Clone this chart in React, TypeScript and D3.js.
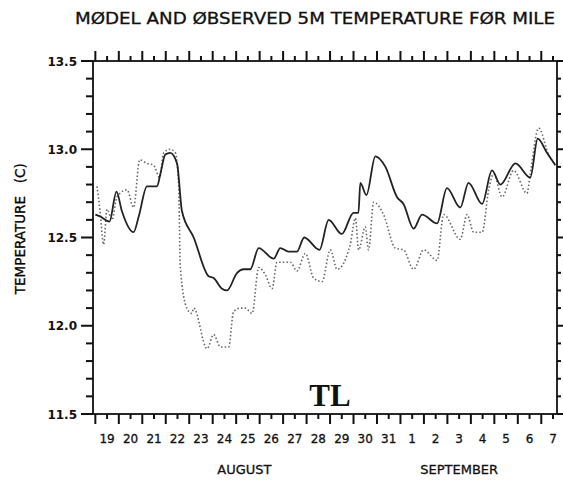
import { useRef, useEffect } from "react";
import * as d3 from "d3";

// time in days of August, midnight = integer (Sep 1 00:00 = 32)
const modelDay = [19.0, 19.2, 19.6, 19.9, 20.13, 20.63, 20.85, 21.2, 21.63, 21.77, 21.98, 22.19, 22.48, 22.69, 23.19, 23.83, 24.04, 24.4, 24.61, 25.04, 25.32, 25.6, 25.96, 26.6, 26.88, 27.23, 27.59, 27.9, 28.55, 28.94, 29.5, 30.0, 30.21, 30.29, 30.55, 30.93, 31.36, 31.85, 32.13, 32.56, 32.92, 33.56, 33.98, 34.55, 34.9, 35.48, 35.9, 36.26, 36.9, 37.53, 37.85, 38.24, 38.6];
const modelTemp = [12.63, 12.62, 12.59, 12.76, 12.65, 12.53, 12.62, 12.79, 12.79, 12.86, 12.97, 12.98, 12.92, 12.65, 12.5, 12.28, 12.27, 12.21, 12.2, 12.3, 12.32, 12.32, 12.44, 12.38, 12.44, 12.42, 12.42, 12.5, 12.43, 12.6, 12.52, 12.64, 12.64, 12.81, 12.74, 12.96, 12.9, 12.73, 12.69, 12.55, 12.63, 12.58, 12.78, 12.67, 12.81, 12.69, 12.88, 12.8, 12.92, 12.84, 13.06, 12.98, 12.91];

const obsDay = [19.07, 19.2, 19.35, 19.5, 19.71, 19.92, 20.35, 20.63, 20.89, 21.2, 21.48, 21.74, 21.91, 22.19, 22.41, 22.55, 22.62, 22.9, 23.11, 23.19, 23.76, 24.04, 24.33, 24.68, 24.89, 25.18, 25.39, 25.68, 25.96, 26.24, 26.53, 26.74, 27.02, 27.31, 27.59, 27.95, 28.3, 28.66, 29.01, 29.3, 29.86, 30.08, 30.22, 30.5, 30.64, 30.86, 31.28, 31.78, 32.13, 32.56, 32.99, 33.56, 33.84, 34.55, 34.84, 35.12, 35.48, 35.76, 35.97, 36.33, 36.82, 37.39, 37.53, 37.89, 38.31, 38.6];
const obsTemp = [12.79, 12.65, 12.46, 12.66, 12.6, 12.73, 12.77, 12.67, 12.94, 12.92, 12.91, 12.84, 12.98, 13.0, 12.98, 12.79, 12.33, 12.1, 12.07, 12.1, 11.87, 11.95, 11.88, 11.88, 12.08, 12.1, 12.1, 12.07, 12.33, 12.29, 12.21, 12.36, 12.36, 12.36, 12.31, 12.41, 12.27, 12.25, 12.43, 12.32, 12.46, 12.61, 12.43, 12.56, 12.43, 12.7, 12.63, 12.44, 12.43, 12.32, 12.43, 12.37, 12.63, 12.49, 12.63, 12.53, 12.53, 12.77, 12.86, 12.73, 12.88, 12.75, 12.86, 13.12, 12.97, 12.91];

// day labels sit at noon of each day
const dayLabels = ["19", "20", "21", "22", "23", "24", "25", "26", "27", "28", "29", "30", "31", "1", "2", "3", "4", "5", "6", "7"];
const dayLabelPos = [19.5, 20.5, 21.5, 22.5, 23.5, 24.5, 25.5, 26.5, 27.5, 28.5, 29.5, 30.5, 31.5, 32.5, 33.5, 34.5, 35.5, 36.5, 37.5, 38.5];
const monthLabels = ["AUGUST", "SEPTEMBER"];
const monthPos = [25.35, 34.5];
const yMajor = [11.5, 12.0, 12.5, 13.0, 13.5];

const title = "MØDEL AND ØBSERVED 5M TEMPERATURE FØR MILE";

export default function App() {
  const ref = useRef<SVGSVGElement | null>(null);

  useEffect(() => {
    if (!ref.current) return;
    const W = 563, H = 482;
    const left = 93, right = 557, top = 61, bottom = 414;
    const font = "'DejaVu Sans', sans-serif";
    const ink = "#111";
    const tw = 2; // tick thickness

    const svg = d3.select(ref.current);
    svg.selectAll("*").remove();
    svg.attr("width", W).attr("height", H);
    svg.append("rect").attr("width", W).attr("height", H).attr("fill", "#fff");

    const x = d3.scaleLinear().domain([18.9, 38.67]).range([left, right]);
    const y = d3.scaleLinear().domain([11.5, 13.5]).range([bottom, top]);

    const halfDays = d3.range(0, 40).map((i) => 19 + i * 0.5).filter((d) => d < 38.67);
    const tenths = d3.range(0, 21).map((i) => +(11.5 + i * 0.1).toFixed(1));
    const xLen = (d: number) => (Number.isInteger(d) ? 10 : 5);
    const yLen = (v: number) => (yMajor.includes(v) ? 12 : 7);

    const tickG = svg.append("g").attr("fill", ink);
    // bottom (down) and top (up) ticks
    tickG.selectAll("rect.xb").data(halfDays).join("rect").attr("class", "xb")
      .attr("x", (d) => x(d) - tw / 2).attr("y", bottom)
      .attr("width", tw).attr("height", xLen);
    tickG.selectAll("rect.xt").data(halfDays).join("rect").attr("class", "xt")
      .attr("x", (d) => x(d) - tw / 2).attr("y", (d) => top - xLen(d))
      .attr("width", tw).attr("height", xLen);
    // left (outward) and right (outward) ticks
    tickG.selectAll("rect.yl").data(tenths).join("rect").attr("class", "yl")
      .attr("x", (v) => left - yLen(v)).attr("y", (v) => y(v) - tw / 2)
      .attr("width", yLen).attr("height", tw);
    tickG.selectAll("rect.yr").data(tenths).join("rect").attr("class", "yr")
      .attr("x", right).attr("y", (v) => y(v) - tw / 2)
      .attr("width", (v) => (yMajor.includes(v) ? 6 : 4)).attr("height", tw);

    // frame
    svg.append("rect")
      .attr("x", left).attr("y", top)
      .attr("width", right - left).attr("height", bottom - top)
      .attr("fill", "none").attr("stroke", ink).attr("stroke-width", 1.8);

    svg.append("g").selectAll("text").data(yMajor).join("text")
      .attr("x", 77).attr("y", (d) => y(d) + 4.5)
      .attr("text-anchor", "end")
      .attr("font-family", font).attr("font-size", 12).attr("font-weight", "bold")
      .attr("fill", ink)
      .text((d) => d.toFixed(1));

    svg.append("g").selectAll("text").data(dayLabels).join("text")
      .attr("x", (_d, i) => x(dayLabelPos[i]))
      .attr("y", 443)
      .attr("text-anchor", "middle")
      .attr("font-family", font).attr("font-size", 12)
      .attr("fill", ink).attr("stroke", ink).attr("stroke-width", 0.3)
      .text((d) => d);

    svg.append("g").selectAll("text").data(monthLabels).join("text")
      .attr("x", (_d, i) => x(monthPos[i]))
      .attr("y", 474)
      .attr("text-anchor", "middle")
      .attr("font-family", font).attr("font-size", 13)
      .attr("fill", ink).attr("stroke", ink).attr("stroke-width", 0.3)
      .text((d) => d);

    svg.append("text")
      .attr("x", 75).attr("y", 24)
      .attr("textLength", 480).attr("lengthAdjust", "spacingAndGlyphs")
      .attr("font-family", font).attr("font-size", 15)
      .attr("fill", ink).attr("stroke", ink).attr("stroke-width", 0.3)
      .text(title);

    svg.append("text")
      .attr("transform", `translate(25,${y(12.55)}) rotate(-90)`)
      .attr("text-anchor", "middle")
      .attr("font-family", font).attr("font-size", 13.5)
      .attr("fill", "#000").attr("stroke", "#000").attr("stroke-width", 0.3)
      .style("white-space", "pre")
      .text("TEMPERATURE   (C)");

    svg.append("text")
      .attr("x", x(29.0)).attr("y", 406)
      .attr("text-anchor", "middle")
      .attr("font-family", "'Liberation Serif', serif").attr("font-size", 31).attr("font-weight", "bold")
      .attr("fill", ink)
      .text("TL");

    const obsLine = d3.line<number>()
      .x((d) => x(d))
      .y((_d, i) => y(obsTemp[i]))
      .curve(d3.curveMonotoneX);
    const modelLine = d3.line<number>()
      .x((d) => x(d))
      .y((_d, i) => y(modelTemp[i]))
      .curve(d3.curveMonotoneX);

    svg.append("path")
      .attr("fill", "none").attr("stroke", "#666").attr("stroke-width", 1.6)
      .attr("stroke-dasharray", "1.5,2.2")
      .attr("d", obsLine(obsDay) || "");

    svg.append("path")
      .attr("fill", "none").attr("stroke", "#222").attr("stroke-width", 1.8)
      .attr("d", modelLine(modelDay) || "");
  }, []);

  return <svg ref={ref} style={{ position: "absolute", left: 0, top: 0, display: "block" }} />;
}
